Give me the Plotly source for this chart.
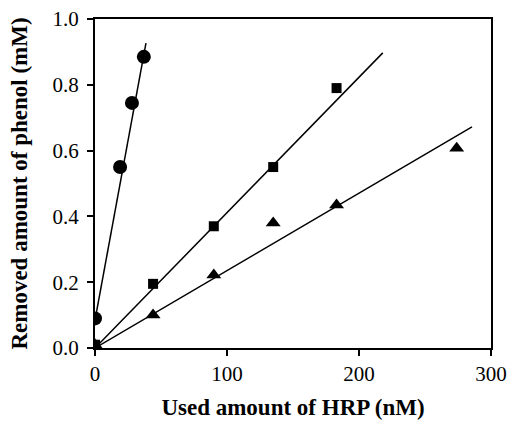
import plotly.graph_objects as go

# Data
circle_x = [0, 19, 28, 37]
circle_y = [0.09, 0.55, 0.745, 0.885]
square_x = [0, 44, 90, 135, 183]
square_y = [0.01, 0.195, 0.37, 0.55, 0.79]
triangle_x = [0, 44, 90, 135, 183, 274]
triangle_y = [0.01, 0.10, 0.222, 0.38, 0.435, 0.607]

# fitted straight lines (endpoints)
fit_circle_x = [0, 38.6]
fit_circle_y = [0.085, 0.927]
fit_square_x = [0, 218]
fit_square_y = [0.0, 0.897]
fit_triangle_x = [0, 285.6]
fit_triangle_y = [0.0, 0.672]

x_ticks = [0, 100, 200, 300]
y_ticks = [0.0, 0.2, 0.4, 0.6, 0.8, 1.0]

fig = go.Figure()
line_style = dict(color="black", width=1.5)
for fx, fy in [(fit_circle_x, fit_circle_y), (fit_square_x, fit_square_y), (fit_triangle_x, fit_triangle_y)]:
    fig.add_trace(go.Scatter(x=fx, y=fy, mode="lines", line=line_style, showlegend=False, hoverinfo="skip"))

fig.add_trace(go.Scatter(x=circle_x, y=circle_y, mode="markers",
                         marker=dict(symbol="circle", size=14, color="black"), showlegend=False))
fig.add_trace(go.Scatter(x=square_x, y=square_y, mode="markers",
                         marker=dict(symbol="square", size=10, color="black"), showlegend=False))
fig.add_trace(go.Scatter(x=triangle_x, y=triangle_y, mode="markers",
                         marker=dict(symbol="triangle-up", size=13, color="black"), showlegend=False))

font_family = "Liberation Serif, Times New Roman, serif"
fig.update_layout(
    width=509, height=423,
    margin=dict(l=95, r=18, t=19, b=75),
    paper_bgcolor="white", plot_bgcolor="white",
    font=dict(family=font_family, color="black", size=21),
    xaxis=dict(
        range=[0, 300], tickvals=x_ticks, ticktext=[str(v) for v in x_ticks],
        ticks="outside", ticklen=6, tickwidth=1.5, tickcolor="black",
        ticklabelstandoff=0, automargin=False,
        showline=True, linecolor="black", linewidth=2, mirror=True,
        showgrid=False, zeroline=False,
        tickfont=dict(size=21),
        title=dict(text="<b>Used amount of HRP (nM)</b>", font=dict(size=23), standoff=14),
    ),
    yaxis=dict(
        range=[0, 1.0], tickvals=y_ticks, ticktext=[f"{v:.1f}" for v in y_ticks],
        ticks="outside", ticklen=6, tickwidth=1.5, tickcolor="black",
        ticklabelstandoff=4, automargin=False,
        showline=True, linecolor="black", linewidth=2, mirror=True,
        showgrid=False, zeroline=False,
        tickfont=dict(size=21),
        title=dict(text="<b>Removed amount of phenol (mM)</b>", font=dict(size=23), standoff=18),
    ),
)

fig.write_html("out.html", config={"displayModeBar": False},
               post_script="document.body.style.margin='0';document.body.style.overflow='hidden';")
